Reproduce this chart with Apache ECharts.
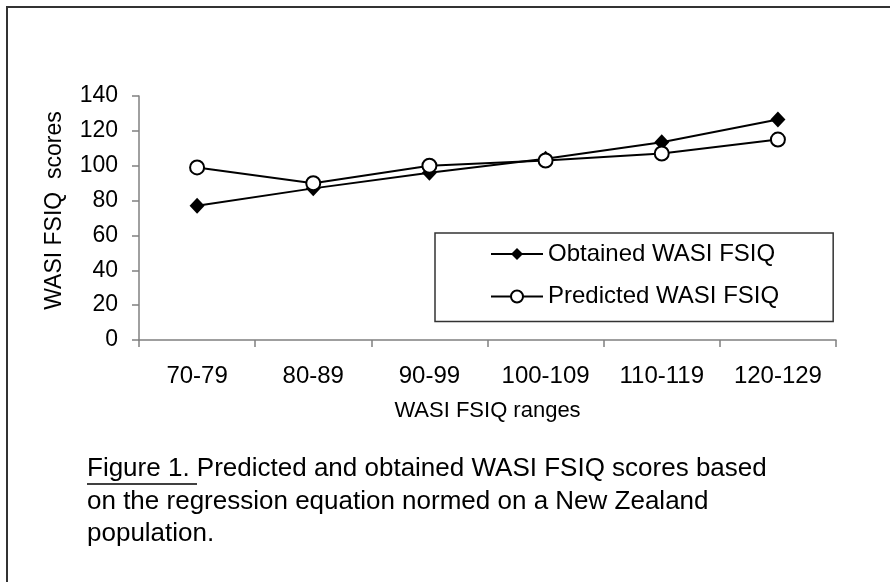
<!DOCTYPE html>
<html>
<head>
<meta charset="utf-8">
<script src="https://cdn.jsdelivr.net/npm/echarts@6/dist/echarts.min.js"></script>
<style>
html,body{margin:0;padding:0;background:#fff;}
#chart{width:890px;height:582px;}
</style>
</head>
<body>
<div id="chart"></div>
<script>
const categories = ['70-79', '80-89', '90-99', '100-109', '110-119', '120-129'];
const obtained = [77, 87, 96, 104, 113.5, 126.5];
const predicted = [99, 90, 100, 103, 107, 115];
const seriesNames = ['Obtained WASI FSIQ', 'Predicted WASI FSIQ'];
const yAxisName = 'WASI FSIQ  scores';
const xAxisName = 'WASI FSIQ ranges';
const captionLabel = 'Figure 1. ';
const captionLines = [
  'Predicted and obtained WASI FSIQ scores based',
  'on the regression equation normed on a New Zealand',
  'population.'
];

const FONT = "'Liberation Sans', Arial, sans-serif";
const chart = echarts.init(document.getElementById('chart'), null, {renderer: 'canvas'});

const option = {
  backgroundColor: '#fff',
  animation: false,
  textStyle: {fontFamily: FONT, color: '#000'},
  grid: {left: 139, right: 54, top: 96, bottom: 242},
  legend: {
    orient: 'vertical',
    left: 435,
    top: 233,
    padding: [9, 54, 13, 55],
    borderColor: '#333',
    borderWidth: 1.5,
    itemWidth: 52,
    itemHeight: 15,
    itemGap: 18.5,
    textStyle: {fontFamily: FONT, fontSize: 24, lineHeight: 24, color: '#000'},
    data: seriesNames
  },
  xAxis: {
    type: 'category',
    data: categories,
    boundaryGap: true,
    name: xAxisName,
    nameLocation: 'middle',
    nameGap: 60,
    nameTextStyle: {fontFamily: FONT, fontSize: 22, color: '#000'},
    axisLine: {lineStyle: {color: '#808080', width: 1.5}},
    axisTick: {show: true, length: 7, lineStyle: {color: '#808080', width: 1.5}},
    axisLabel: {margin: 24, fontFamily: FONT, fontSize: 24, color: '#000'},
    splitLine: {show: false}
  },
  yAxis: {
    type: 'value',
    min: 0,
    max: 140,
    interval: 20,
    name: yAxisName,
    nameLocation: 'middle',
    nameGap: 73,
    nameRotate: 90,
    nameTextStyle: {fontFamily: FONT, fontSize: 23, color: '#000', padding: [0, 0, 0, 15]},
    axisLine: {show: true, lineStyle: {color: '#808080', width: 1.5}},
    axisTick: {show: true, length: 7, lineStyle: {color: '#808080', width: 1.5}},
    axisLabel: {margin: 21, fontFamily: FONT, fontSize: 23, color: '#000'},
    splitLine: {show: false}
  },
  series: [
    {
      name: seriesNames[0],
      type: 'line',
      data: obtained,
      symbol: 'diamond',
      symbolSize: [15, 16],
      lineStyle: {color: '#000', width: 2},
      itemStyle: {color: '#000', borderColor: '#000', borderWidth: 0},
      z: 2
    },
    {
      name: seriesNames[1],
      type: 'line',
      data: predicted,
      symbol: 'circle',
      symbolSize: 14,
      showAllSymbol: true,
      lineStyle: {color: '#000', width: 2},
      itemStyle: {color: '#fff', borderColor: '#000', borderWidth: 2},
      z: 3
    }
  ],
  graphic: [
    {
      type: 'rect',
      shape: {x: 7, y: 7, width: 2000, height: 2000},
      style: {fill: 'none', stroke: '#333', lineWidth: 2},
      silent: true
    },
    {
      type: 'text',
      left: 87,
      top: 453,
      style: {
        text: '{u|' + captionLabel + '}' + captionLines[0] + '\n' + captionLines[1] + '\n' + captionLines[2],
        fontFamily: FONT,
        fontSize: 26,
        lineHeight: 32.5,
        fill: '#000',
        rich: {
          u: {fontFamily: FONT, fontSize: 26, lineHeight: 32.5, color: '#000'}
        }
      }
    },
    {
      type: 'line',
      shape: {x1: 87, y1: 484, x2: 197, y2: 484},
      style: {stroke: '#000', lineWidth: 1.5}
    }
  ]
};
chart.setOption(option);
</script>
</body>
</html>
